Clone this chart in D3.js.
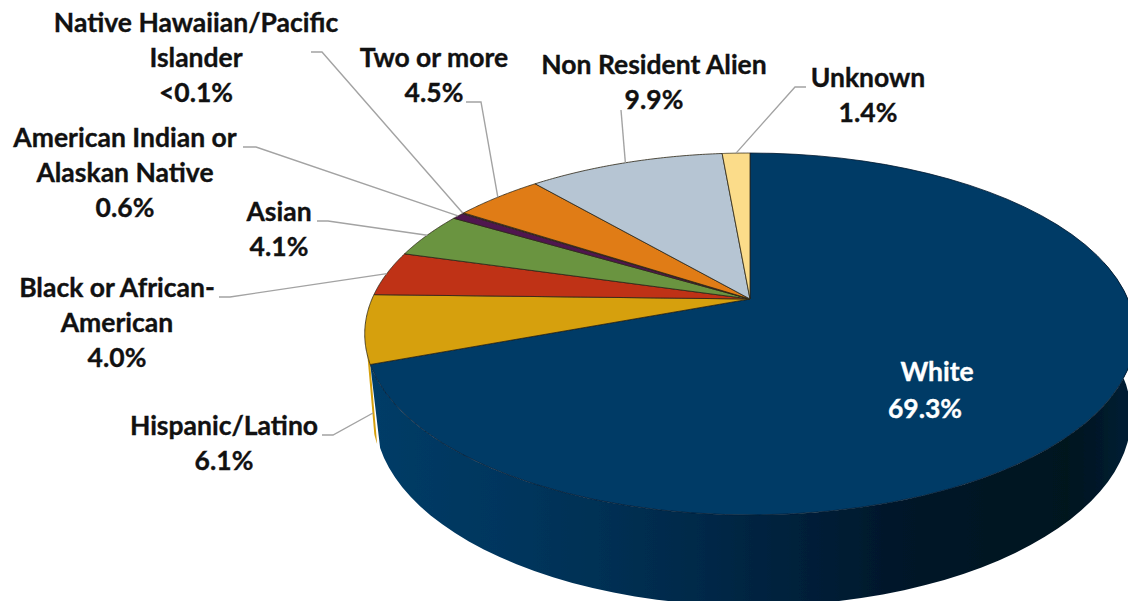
<!DOCTYPE html>
<html><head><meta charset="utf-8">
<script src="https://cdn.jsdelivr.net/npm/d3@7/dist/d3.min.js"></script>
<style>html,body{margin:0;padding:0;background:#fff}svg{display:block}text{font-family:Lato,"Open Sans",sans-serif;font-weight:700;stroke-width:0.35px}</style>
</head><body>
<svg id="c" width="1128" height="601"></svg>
<script>
const categories=["White","Hispanic/Latino","Black or African-American","Asian","American Indian or Alaskan Native","Native Hawaiian/Pacific Islander","Two or more","Non Resident Alien","Unknown"];
const values=[69.3,6.1,4.0,4.1,0.6,0.1,4.5,9.9,1.4];
const valueLabels=["69.3%","6.1%","4.0%","4.1%","0.6%","<0.1%","4.5%","9.9%","1.4%"];
const colors=["#003a66","#d6a00e","#bf3015","#6a9440","#4f1550","#4f1550","#e07c17","#b6c5d3","#fbdc8a"];
const labelLines=[["White"],["Hispanic/Latino"],["Black or African-","American"],["Asian"],["American Indian or","Alaskan Native"],["Native Hawaiian/Pacific","Islander"],["Two or more"],["Non Resident Alien"],["Unknown"]];

const svg=d3.select("#c"),FS=26.5,LH=35;
const x0=750,y0=299,K=378,A=174.2,P=0.1934;
const project=a=>{const u=Math.sin(a),v=Math.cos(a),d=1+P*v;return [x0+K*u/d,y0-A*v/d];};
const bottom=a=>{const [x,y]=project(a);return [753+(x-750)*378/385,416+(y-334)*190/181];};
const arcs=d3.pie().value(d=>d).sort(null)(values);
const line=d3.line();
const arcPts=(a,b,f=project)=>d3.range(0,61).map(i=>f(a+(b-a)*i/60));

const defs=svg.append("defs");
defs.append("filter").attr("id","soft").attr("x","-5%").attr("y","-5%").attr("width","110%").attr("height","110%")
  .append("feGaussianBlur").attr("stdDeviation",0.55);
const grad=defs.append("linearGradient").attr("id","side").attr("gradientUnits","userSpaceOnUse").attr("x1",370).attr("x2",1128).attr("y1",0).attr("y2",0);
[[0,"#033c67"],[0.2,"#00355c"],[0.4,"#002b4c"],[0.55,"#00213c"],[0.7,"#001729"],[0.92,"#00121f"],[1,"#001f33"]].forEach(s=>grad.append("stop").attr("offset",s[0]).attr("stop-color",s[1]));

const g=svg.append("g").attr("filter","url(#soft)");
// side wall: thin yellow rim behind the white wall
const white=arcs[0];
const rimA=white.endAngle,rimB=rimA+0.05;
g.append("path").attr("fill",colors[1]).attr("d",line([...arcPts(rimA,rimB),...arcPts(rimB,rimA,a=>{const p=bottom(a);return [p[0]-3,p[1]-4];})])+"Z");
// white wall
const wallA=Math.PI*0.5-0.22,wallB=white.endAngle;
g.append("path").attr("fill","url(#side)").attr("d",line([...arcPts(wallA,wallB),...arcPts(wallB,wallA,bottom)])+"Z");
// top surface
g.selectAll("path.slice").data(arcs).join("path").attr("class","slice")
  .attr("fill",(d,i)=>colors[i]).attr("stroke",(d,i)=>i==0?"#001a30":"#2e2818").attr("stroke-opacity",0.9).attr("stroke-width",0.9)
  .attr("stroke-linejoin","round")
  .attr("d",d=>line([[x0,y0],...arcPts(d.startAngle,d.endAngle)])+"Z");

// leaders: label-side elbow, then to the slice's rim at mid-angle
const leaders=[null,
 {e:[[322,435],[333,435]],tip:[373,413]},
 {e:[[219,297],[230,297]]},
 {e:[[317,221],[328,221]]},
 {e:[[243,147],[256,147]]},
 {e:[[311,52],[322,52]]},
 {e:[[466,102],[481,102]]},
 {e:[[621,110]]},
 {e:[[806,87],[795,87]]}];
arcs.forEach((d,i)=>{const l=leaders[i];if(!l)return;
  const tip=l.tip||project((d.startAngle+d.endAngle)/2);
  svg.append("path").attr("fill","none").attr("stroke","#a3a3a3").attr("stroke-width",1.4).attr("d",line([...l.e,tip]));
});

// labels
const pos=[[937,381,925,418],[224,435],[117,297],[279,220.5],[125,147],[196,32],[434,67],[654,74],[868,87]];
categories.forEach((c,i)=>{
  const p=pos[i],lines=labelLines[i],fill=i==0?"#fff":"#111";
  lines.forEach((t,j)=>svg.append("text").attr("x",p[0]).attr("y",p[1]+j*LH).attr("text-anchor","middle").attr("font-size",FS).attr("fill",fill).attr("stroke",fill).text(t));
  const vx=p[2]??p[0],vy=p[3]??p[1]+lines.length*LH;
  svg.append("text").attr("x",vx).attr("y",vy).attr("text-anchor","middle").attr("font-size",FS).attr("fill",fill).attr("stroke",fill).text(valueLabels[i]);
});
</script></body></html>
